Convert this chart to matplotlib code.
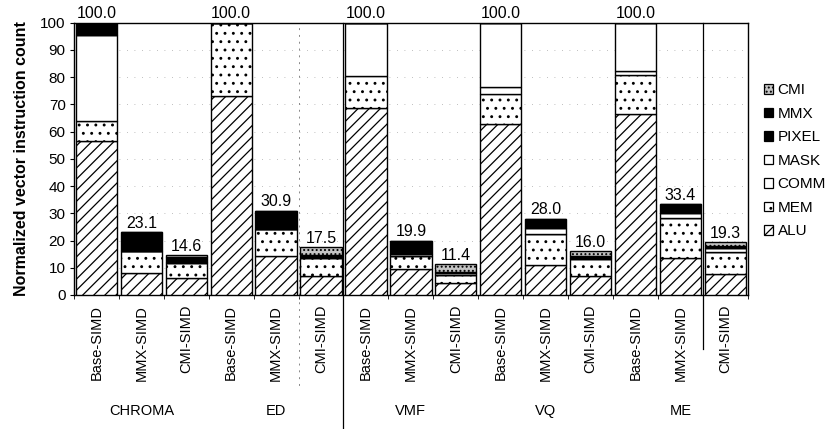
import numpy as np
import matplotlib.pyplot as plt
from matplotlib.patches import Patch
from matplotlib.lines import Line2D
import matplotlib.transforms as mtransforms

plt.rcParams['font.family'] = ['Liberation Sans', 'DejaVu Sans']
plt.rcParams['hatch.linewidth'] = 0.9

groups = ["CHROMA", "ED", "VMF", "VQ", "ME"]
variants = ["Base-SIMD", "MMX-SIMD", "CMI-SIMD"]

# one value per bar, 5 groups x 3 variants, stacked bottom -> top
alu = [56.5, 7.9, 6.1, 73.0, 14.4, 7.0, 68.7, 9.4, 4.3, 62.8, 11.1, 7.0, 66.5, 13.7, 7.7]
mem = [7.5, 8.3, 5.5, 27.0, 9.8, 6.5, 11.9, 5.0, 2.9, 11.0, 11.2, 6.1, 14.3, 14.5, 8.0]
comm = [31.5, 0, 0, 0, 0, 0, 19.4, 0, 0, 2.5, 0, 0, 1.5, 0, 0]
mask = [0, 0, 0.6, 0, 0, 0.6, 0, 0.5, 0.7, 23.7, 2.2, 0.6, 17.7, 1.8, 1.4]
pixel = [4.5, 0, 0, 0, 0, 0, 0, 0, 0, 0, 0, 0, 0, 0, 0]
mmx = [0, 6.9, 1.9, 0, 6.7, 0.6, 0, 5.0, 0.6, 0, 3.5, 0.5, 0, 3.4, 1.0]
cmi = [0, 0, 0.5, 0, 0, 2.8, 0, 0, 2.9, 0, 0, 1.8, 0, 0, 1.2]

series = [
    ("ALU", alu, dict(facecolor="white", hatch="///")),
    ("MEM", mem, dict(facecolor="white", hatch="..")),
    ("COMM", comm, dict(facecolor="white", hatch="")),
    ("MASK", mask, dict(facecolor="white", hatch="")),
    ("PIXEL", pixel, dict(facecolor="black", hatch="")),
    ("MMX", mmx, dict(facecolor="black", hatch="")),
    ("CMI", cmi, dict(facecolor="#c4c4c4", hatch="....")),
]

n = len(groups) * len(variants)
x = np.arange(n)
tick_labels = variants * len(groups)

fig = plt.figure(figsize=(8.34, 4.29), dpi=100)
ax = fig.add_axes([74 / 834, 1 - 295 / 429, (747.7 - 74) / 834, 272.3 / 429])

bottom = np.zeros(n)
for name, vals, style in series:
    vals = np.array(vals, dtype=float)
    ax.bar(x, vals, 0.92, bottom=bottom, edgecolor="black", linewidth=1.0,
           zorder=3, **style)
    bottom += vals

for i, tot in enumerate(bottom):
    ax.text(x[i], tot + 0.5, f"{tot:.1f}", ha="center", va="bottom",
            fontsize=11.5, clip_on=False, zorder=5)

ax.set_xlim(-0.5, n - 0.5)
ax.set_ylim(0, 100)
ax.set_yticks(np.arange(0, 101, 10))
ax.tick_params(axis="y", labelsize=11, length=3, pad=3)
ax.set_xticks(x)
ax.set_xticklabels(tick_labels, rotation=90, fontsize=10.5)
ax.tick_params(axis="x", length=0, pad=7)
ax.set_xticks(np.arange(-0.5, n, 1), minor=True)
ax.tick_params(axis="x", which="minor", length=3, direction="out")
ax.grid(axis="y", linestyle=(0, (1, 8)), color="#aaaaaa", linewidth=0.6, zorder=0)
for s in ax.spines.values():
    s.set_linewidth(1.0)

ax.set_ylabel("Normalized vector instruction count", fontsize=11.5,
              fontweight="bold", labelpad=8)

# group names
trans = mtransforms.blended_transform_factory(ax.transData, ax.transAxes)
for g, name in enumerate(groups):
    ax.text(g * 3 + 1, -0.425, name, transform=trans, ha="center", va="center",
            fontsize=10.5)

# separators
ax.axvline(4.5, color="#888888", linestyle=(0, (2, 5)), linewidth=0.7, zorder=2)
ax.add_line(Line2D([4.5, 4.5], [0, -0.35], transform=trans, color="#888888",
                   linestyle=(0, (2, 5)), linewidth=0.7, clip_on=False))
ax.add_line(Line2D([5.5, 5.5], [1, -0.5], transform=trans, color="black",
                   linewidth=0.9, clip_on=False, zorder=4))
ax.add_line(Line2D([13.5, 13.5], [1, -0.2], transform=trans, color="black",
                   linewidth=0.9, clip_on=False, zorder=4))

handles = [Patch(edgecolor="black", linewidth=0.9, label=name, **style)
           for name, vals, style in series][::-1]
fig.legend(handles=handles, loc="center left", bbox_to_anchor=(0.903, 0.625),
           frameon=False, fontsize=11, handlelength=0.6, handleheight=0.6,
           handletextpad=0.3, labelspacing=0.62, borderpad=0.2)

fig.savefig("out.png", dpi=100)
